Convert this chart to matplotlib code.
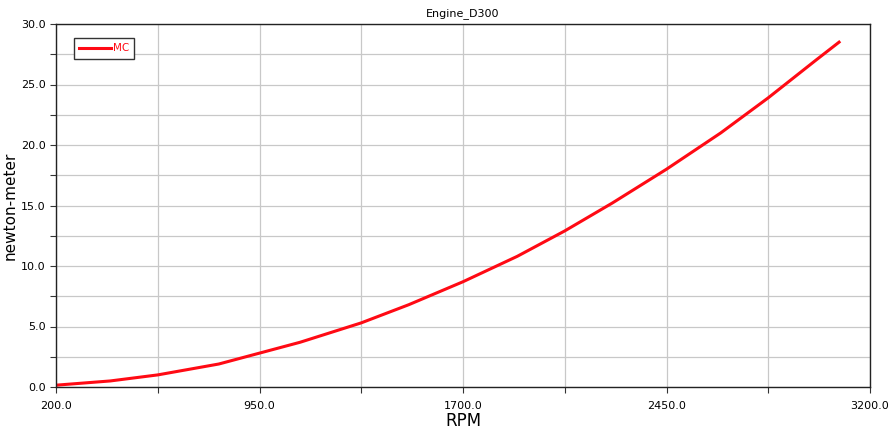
"""Engine_D300: torque vs speed"""
import numpy as np
from matplotlib import pyplot as plt
from matplotlib.ticker import FormatStrFormatter

rpm = [200, 400, 575, 800, 950, 1100, 1325, 1500, 1700, 1900,
       2075, 2250, 2450, 2650, 2825, 3000, 3086]
torque = [0.15, 0.5, 1.0, 1.9, 2.8, 3.7, 5.3, 6.8, 8.7, 10.8,
          12.9, 15.2, 18.0, 21.0, 23.9, 27.0, 28.5]
series_name = 'MC'
x_ticks = [200, 950, 1700, 2450, 3200]
x_minor = [575, 1325, 2075, 2825]
y_ticks = [0, 5, 10, 15, 20, 25, 30]
y_minor = [2.5, 7.5, 12.5, 17.5, 22.5, 27.5]


def plot():
    fig = plt.figure(figsize=(8.96, 4.34), dpi=100)
    ax = fig.add_axes([56 / 896, 1 - 387 / 434, 814 / 896, 363 / 434])

    ax.plot(rpm, torque, color='#ff0a14', lw=2.2, label=series_name)

    ax.set_xlim(200, 3200)
    ax.set_ylim(0, 30)
    ax.set_xticks(x_ticks)
    ax.set_xticks(x_minor, minor=True)
    ax.set_yticks(y_ticks)
    ax.set_yticks(y_minor, minor=True)
    ax.xaxis.set_major_formatter(FormatStrFormatter('%.1f'))
    ax.yaxis.set_major_formatter(FormatStrFormatter('%.1f'))
    ax.grid(which='both', color='#c8c8c8', lw=0.9)
    ax.set_axisbelow(True)
    ax.tick_params(which='both', direction='out', length=4, width=0.8,
                   labelsize=8, color='#333333')
    ax.tick_params(axis='x', pad=6)
    for s in ax.spines.values():
        s.set_color('#222222')
        s.set_linewidth(1.0)

    ax.set_title('Engine_D300', fontsize=8, pad=6)
    ax.set_xlabel('RPM', fontsize=12, labelpad=1)
    ax.set_ylabel('newton-meter', fontsize=11)
    ax.yaxis.set_label_coords(-0.047, 0.5)

    leg = ax.legend(loc='upper left', fontsize=7.5, fancybox=False,
                    edgecolor='#333333', framealpha=1, handlelength=3.0,
                    handletextpad=0.2, borderpad=0.5,
                    bbox_to_anchor=(0.016, 0.975))
    for t in leg.get_texts():
        t.set_color('#ff0a14')

    fig.savefig('out.png', dpi=100)


if __name__ == '__main__':
    plot()
